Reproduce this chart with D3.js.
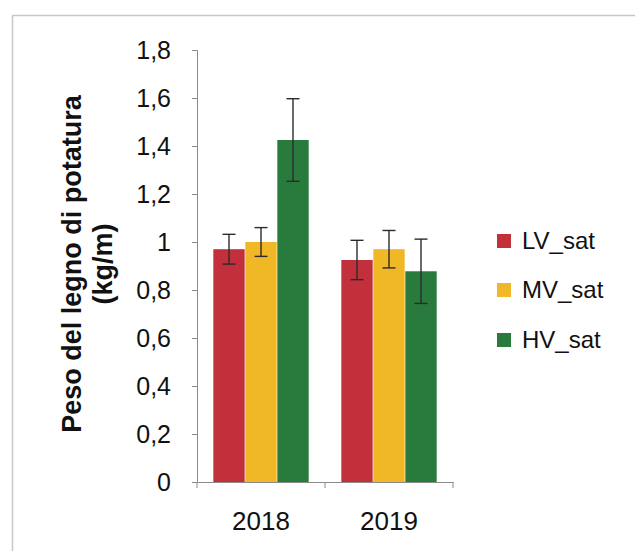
<!DOCTYPE html>
<html>
<head>
<meta charset="utf-8">
<script src="https://cdn.jsdelivr.net/npm/d3@7"></script>
<style>
  html, body { margin: 0; padding: 0; background: #fff; }
  svg { display: block; }
</style>
</head>
<body>
<svg id="chart" width="635" height="551"></svg>
<script>
// Pruning wood weight per metre of row, by year and vigour class
const years = ["2018", "2019"];
const seriesNames = ["LV_sat", "MV_sat", "HV_sat"];
const seriesColors = ["#c2303b", "#f0b726", "#287a3d"];
const LV_sat = [0.97, 0.925];
const MV_sat = [1.0, 0.97];
const HV_sat = [1.425, 0.878];
const LV_err = [0.062, 0.082];
const MV_err = [0.06, 0.078];
const HV_err = [0.172, 0.134];
const yTicks = [0, 0.2, 0.4, 0.6, 0.8, 1, 1.2, 1.4, 1.6, 1.8];

const values = [LV_sat, MV_sat, HV_sat];
const errors = [LV_err, MV_err, HV_err];

const it = d3.formatLocale({ decimal: ",", thousands: ".", grouping: [3], currency: ["€", ""] });
const fmt = it.format("~r");

const svg = d3.select("#chart");
const font = "'Liberation Sans', Arial, sans-serif";

// outer frame
svg.append("rect")
  .attr("x", 12.5).attr("y", 15.5)
  .attr("width", 700).attr("height", 600)
  .attr("fill", "none").attr("stroke", "#c8c8c8").attr("stroke-width", 1.5);

const plot = { left: 197, right: 453, top: 50, bottom: 482 };

const x = d3.scaleBand().domain(years).range([plot.left, plot.right]).paddingInner(0).paddingOuter(0);
const xs = d3.scaleBand().domain(seriesNames).range([0, x.bandwidth()]).paddingInner(0.02).paddingOuter(0.51);
const y = d3.scaleLinear().domain([0, 1.8]).range([plot.bottom, plot.top]);

// bars
const g = svg.append("g");
years.forEach((yr, i) => {
  seriesNames.forEach((s, j) => {
    g.append("rect")
      .attr("x", x(yr) + xs(s))
      .attr("y", y(values[j][i]))
      .attr("width", xs.bandwidth())
      .attr("height", y(0) - y(values[j][i]))
      .attr("fill", seriesColors[j]);
  });
});

// error bars
const eg = svg.append("g").attr("stroke", "#2b2b2b").attr("stroke-width", 1.4);
years.forEach((yr, i) => {
  seriesNames.forEach((s, j) => {
    const cx = x(yr) + xs(s) + xs.bandwidth() / 2;
    const hi = y(values[j][i] + errors[j][i]);
    const lo = y(values[j][i] - errors[j][i]);
    eg.append("line").attr("x1", cx).attr("x2", cx).attr("y1", hi).attr("y2", lo);
    eg.append("line").attr("x1", cx - 6.5).attr("x2", cx + 6.5).attr("y1", hi).attr("y2", hi);
    eg.append("line").attr("x1", cx - 6.5).attr("x2", cx + 6.5).attr("y1", lo).attr("y2", lo);
  });
});

// y axis
const yAxis = svg.append("g")
  .attr("transform", `translate(${plot.left},0)`)
  .call(d3.axisLeft(y).tickValues(yTicks).tickFormat(fmt).tickSize(5).tickPadding(21));
yAxis.select(".domain").attr("stroke", "#8a8a8a");
yAxis.selectAll(".tick line").attr("stroke", "#8a8a8a");
yAxis.selectAll(".tick text")
  .attr("fill", "#111").attr("font-family", font).attr("font-size", 25);

// x axis
const xAxis = svg.append("g")
  .attr("transform", `translate(0,${plot.bottom})`)
  .call(d3.axisBottom(x).tickSize(0).tickPadding(30));
xAxis.select(".domain").attr("stroke", "#8a8a8a");
xAxis.selectAll(".tick text")
  .attr("fill", "#111").attr("font-family", font).attr("font-size", 26);
// category separators below the axis
const bounds = [plot.left, x(years[1]), plot.right];
xAxis.selectAll(".sep").data(bounds).enter().append("line")
  .attr("x1", d => d).attr("x2", d => d).attr("y1", 0).attr("y2", 6)
  .attr("stroke", "#8a8a8a");

// y axis title
const title = svg.append("text")
  .attr("transform", "translate(81,264) rotate(-90)")
  .attr("text-anchor", "middle")
  .attr("font-family", font).attr("font-weight", "bold").attr("font-size", 27)
  .attr("fill", "#111");
title.append("tspan").attr("x", 0).attr("dy", 0).text("Peso del legno di potatura");
title.append("tspan").attr("x", 0).attr("dy", 31).text("(kg/m)");

// legend
const legendY = [241, 290, 340];
seriesNames.forEach((s, j) => {
  svg.append("rect")
    .attr("x", 497).attr("y", legendY[j] - 7)
    .attr("width", 14).attr("height", 14)
    .attr("fill", seriesColors[j]);
  svg.append("text")
    .attr("x", 522).attr("y", legendY[j])
    .attr("dy", "0.35em")
    .attr("font-family", font).attr("font-size", 24)
    .attr("fill", "#111")
    .text(s);
});
</script>
</body>
</html>
